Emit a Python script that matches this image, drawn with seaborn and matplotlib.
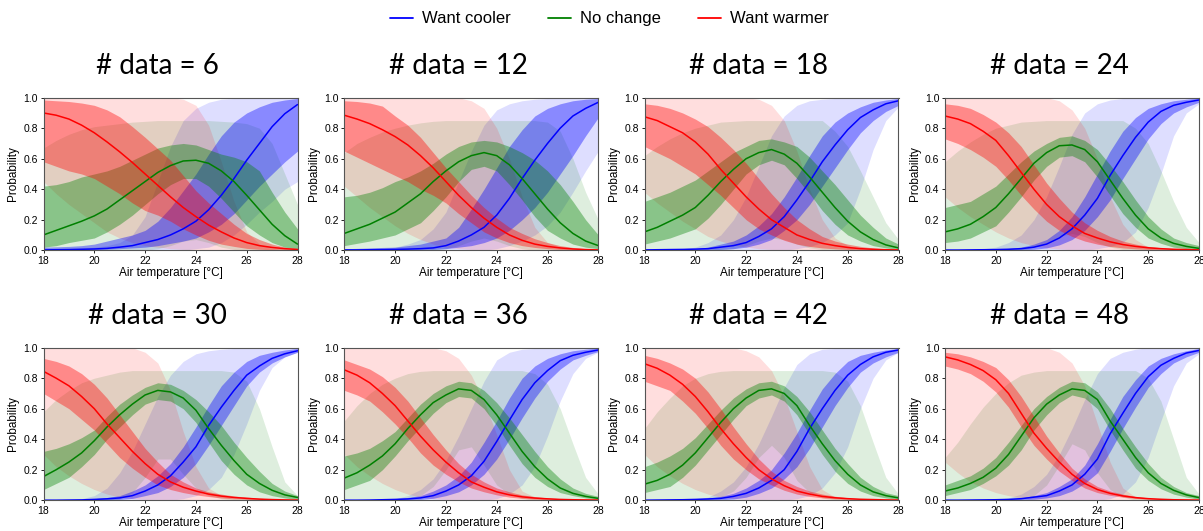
import numpy as np
import pandas as pd
import matplotlib
matplotlib.use("Agg")
import matplotlib.pyplot as plt
from matplotlib.lines import Line2D
import seaborn as sns

# Air temperature grid [°C]
temps = [18.0, 18.5, 19.0, 19.5, 20.0, 20.5, 21.0, 21.5, 22.0, 22.5, 23.0,
         23.5, 24.0, 24.5, 25.0, 25.5, 26.0, 26.5, 27.0, 27.5, 28.0]

n_data = [6, 12, 18, 24, 30, 36, 42, 48]
responses = ["Want cooler", "No change", "Want warmer"]

# ---- posterior mean probability, one row per sample size ----
cool_mean = [
    [.002, .003, .004, .006, .008, .012, .02, .03, .05, .07, .10, .14, .19, .265, .36, .47, .59, .70, .81, .895, .955],
    [.002, .002, .003, .004, .005, .007, .01, .015, .03, .06, .10, .15, .23, .34, .47, .59, .70, .80, .88, .93, .97],
    [.002, .003, .004, .005, .007, .01, .02, .03, .05, .09, .14, .22, .33, .45, .58, .69, .79, .87, .92, .96, .98],
    [.001, .001, .002, .003, .004, .006, .01, .02, .04, .08, .14, .23, .34, .49, .62, .74, .84, .91, .95, .97, .985],
    [0, 0, .001, .002, .005, .009, .015, .03, .06, .1, .16, .25, .35, .49, .61, .72, .82, .88, .93, .96, .98],
    [0, 0, .001, .003, .005, .008, .015, .03, .06, .1, .16, .255, .385, .525, .66, .77, .85, .915, .95, .97, .985],
    [0, .001, .002, .003, .005, .008, .012, .025, .045, .08, .13, .2, .32, .47, .6, .72, .82, .89, .94, .97, .985],
    [0, 0, .001, .002, .003, .005, .01, .02, .03, .06, .1, .17, .27, .435, .57, .70, .81, .885, .93, .965, .982],
]
none_mean = [
    [.10, .13, .16, .19, .225, .27, .33, .39, .45, .51, .555, .585, .59, .57, .52, .45, .36, .265, .17, .095, .04],
    [.11, .14, .17, .21, .25, .31, .37, .45, .52, .58, .62, .64, .62, .56, .47, .37, .27, .18, .11, .06, .03],
    [.12, .15, .19, .23, .28, .36, .45, .53, .60, .64, .66, .63, .57, .48, .38, .28, .19, .12, .07, .035, .015],
    [.12, .14, .17, .22, .28, .37, .47, .57, .64, .685, .69, .66, .58, .46, .34, .23, .14, .08, .045, .025, .012],
    [.155, .20, .25, .31, .39, .48, .56, .63, .69, .72, .71, .67, .59, .47, .36, .26, .17, .11, .065, .035, .018],
    [.145, .18, .23, .29, .37, .47, .56, .64, .69, .73, .72, .66, .56, .44, .32, .22, .14, .08, .045, .025, .012],
    [.105, .13, .17, .23, .31, .41, .51, .60, .67, .72, .73, .70, .62, .49, .37, .26, .17, .10, .055, .03, .015],
    [.06, .08, .11, .15, .21, .30, .42, .54, .63, .69, .73, .72, .66, .52, .40, .28, .18, .11, .065, .035, .017],
]
warm_mean = [
    [.90, .885, .86, .82, .77, .71, .645, .575, .50, .425, .35, .28, .22, .165, .12, .08, .05, .03, .018, .01, .005],
    [.885, .86, .83, .79, .745, .69, .62, .54, .45, .36, .28, .21, .15, .10, .065, .04, .025, .015, .008, .004, .002],
    [.875, .85, .81, .77, .71, .63, .53, .44, .35, .27, .20, .15, .10, .07, .045, .03, .018, .01, .006, .003, .002],
    [.88, .86, .83, .78, .72, .62, .51, .40, .30, .22, .16, .11, .08, .055, .037, .025, .016, .01, .006, .004, .002],
    [.845, .80, .75, .68, .60, .50, .41, .32, .24, .17, .12, .085, .06, .04, .027, .018, .012, .007, .004, .002, .001],
    [.855, .82, .77, .70, .62, .52, .42, .33, .25, .18, .12, .085, .055, .035, .022, .014, .009, .005, .003, .002, .001],
    [.895, .865, .82, .76, .68, .58, .47, .37, .28, .20, .14, .095, .06, .04, .025, .016, .01, .006, .004, .002, .001],
    [.94, .92, .89, .85, .79, .70, .57, .44, .34, .25, .17, .11, .07, .045, .028, .017, .01, .006, .003, .002, .001],
]

# ---- credible interval of the mean (narrow bands) ----
cool_lo = [
    [0, 0, 0, .002, .004, .006, .01, .015, .02, .03, .045, .06, .08, .12, .17, .24, .33, .42, .5, .58, .65],
    [0, 0, 0, 0, 0, 0, 0, .005, .01, .02, .03, .05, .08, .13, .2, .28, .38, .5, .62, .75, .87],
    [0, 0, 0, 0, 0, .002, .005, .01, .02, .04, .07, .13, .2, .3, .42, .54, .66, .77, .85, .91, .95],
    [0, 0, 0, 0, 0, 0, .002, .006, .015, .035, .07, .13, .22, .33, .47, .6, .73, .83, .9, .94, .97],
    [0, 0, 0, 0, .001, .003, .005, .012, .03, .05, .09, .15, .24, .36, .49, .62, .75, .84, .9, .94, .97],
    [0, 0, 0, 0, .001, .003, .005, .013, .03, .055, .1, .17, .27, .4, .54, .67, .78, .86, .92, .95, .975],
    [0, 0, 0, 0, 0, .001, .003, .008, .02, .045, .08, .14, .22, .34, .48, .62, .74, .84, .9, .94, .97],
    [0, 0, 0, 0, 0, 0, .002, .006, .015, .03, .06, .11, .18, .32, .47, .61, .74, .83, .9, .94, .97],
]
cool_hi = [
    [.02, .022, .025, .03, .04, .06, .08, .1, .13, .19, .28, .39, .5, .63, .75, .84, .9, .94, .97, .985, .995],
    [.01, .012, .015, .018, .02, .03, .04, .06, .08, .15, .27, .40, .54, .68, .79, .88, .93, .96, .98, .99, .995],
    [.002, .003, .004, .006, .01, .02, .04, .06, .1, .16, .24, .35, .48, .62, .75, .84, .9, .94, .97, .985, .995],
    [.001, .002, .003, .005, .007, .012, .02, .04, .07, .13, .22, .35, .5, .65, .78, .87, .93, .96, .98, .99, .998],
    [.001, .002, .003, .005, .01, .018, .03, .06, .1, .16, .24, .35, .48, .62, .75, .84, .91, .95, .97, .985, .995],
    [.001, .002, .003, .005, .01, .018, .03, .06, .1, .16, .25, .38, .52, .67, .8, .88, .93, .96, .98, .99, .998],
    [.001, .001, .002, .004, .008, .014, .025, .045, .08, .13, .2, .31, .44, .59, .73, .83, .91, .95, .97, .985, .995],
    [0, .001, .002, .003, .005, .009, .015, .03, .05, .09, .14, .23, .37, .53, .68, .79, .88, .93, .96, .98, .995],
]
none_lo = [
    [.02, .03, .05, .065, .08, .12, .17, .23, .3, .37, .43, .47, .47, .42, .34, .25, .16, .1, .05, .02, .01],
    [.03, .045, .06, .08, .1, .14, .18, .26, .35, .45, .53, .55, .52, .43, .33, .22, .13, .08, .04, .02, .01],
    [.04, .06, .08, .11, .14, .21, .3, .4, .5, .56, .59, .56, .47, .37, .26, .17, .1, .06, .03, .015, .005],
    [.05, .06, .08, .12, .16, .25, .35, .46, .55, .61, .62, .58, .48, .36, .24, .15, .08, .045, .02, .01, .004],
    [.07, .11, .15, .22, .3, .4, .48, .56, .63, .66, .65, .6, .51, .38, .26, .17, .1, .055, .03, .015, .005],
    [.07, .1, .13, .2, .29, .39, .48, .57, .64, .68, .67, .6, .49, .36, .24, .15, .09, .05, .03, .015, .005],
    [.05, .07, .09, .15, .23, .33, .43, .53, .62, .67, .69, .65, .56, .43, .3, .19, .11, .06, .03, .015, .005],
    [.03, .05, .07, .11, .16, .23, .33, .46, .56, .64, .69, .67, .6, .46, .33, .21, .13, .075, .04, .02, .007],
]
none_hi = [
    [.42, .43, .45, .48, .5, .52, .55, .59, .63, .67, .69, .7, .69, .66, .63, .61, .58, .52, .38, .25, .14],
    [.35, .36, .38, .41, .45, .48, .52, .57, .63, .68, .71, .72, .71, .68, .64, .59, .52, .43, .32, .2, .1],
    [.32, .35, .38, .42, .46, .52, .58, .64, .68, .72, .73, .71, .68, .61, .52, .43, .33, .23, .15, .08, .04],
    [.28, .3, .32, .37, .42, .5, .58, .65, .7, .74, .75, .72, .66, .56, .45, .33, .22, .14, .08, .05, .03],
    [.32, .34, .37, .41, .46, .55, .63, .69, .74, .77, .76, .72, .66, .58, .49, .38, .28, .19, .11, .06, .03],
    [.29, .31, .34, .39, .45, .54, .63, .7, .75, .78, .77, .72, .64, .54, .43, .32, .22, .14, .08, .045, .025],
    [.22, .25, .29, .34, .41, .5, .59, .67, .73, .77, .78, .75, .68, .58, .46, .34, .24, .15, .09, .05, .03],
    [.1, .13, .16, .21, .28, .38, .49, .6, .68, .74, .78, .77, .71, .6, .47, .35, .24, .15, .09, .05, .03],
]
warm_lo = [
    [.58, .55, .52, .5, .47, .42, .37, .31, .26, .23, .19, .14, .10, .065, .04, .025, .012, .006, .003, .001, 0],
    [.65, .61, .57, .53, .49, .45, .40, .36, .31, .24, .18, .12, .08, .05, .03, .018, .01, .005, .003, .001, 0],
    [.68, .64, .6, .55, .5, .43, .36, .28, .2, .14, .1, .065, .04, .025, .015, .009, .005, .003, .001, 0, 0],
    [.73, .7, .66, .61, .55, .46, .36, .27, .19, .13, .09, .06, .04, .025, .015, .009, .005, .003, .002, .001, 0],
    [.70, .65, .6, .53, .46, .37, .28, .21, .15, .1, .07, .05, .035, .024, .015, .009, .005, .003, .002, .001, 0],
    [.72, .69, .65, .58, .5, .41, .31, .23, .17, .12, .08, .055, .035, .02, .012, .007, .004, .002, .001, 0, 0],
    [.78, .75, .72, .65, .57, .47, .36, .27, .2, .14, .1, .065, .04, .025, .015, .009, .005, .003, .002, .001, 0],
    [.88, .86, .83, .78, .71, .61, .48, .36, .27, .19, .13, .08, .05, .032, .02, .012, .006, .004, .002, .001, 0],
]
warm_hi = [
    [.985, .98, .975, .965, .95, .92, .875, .81, .74, .665, .59, .49, .39, .31, .24, .17, .11, .07, .04, .02, .01],
    [.98, .975, .965, .945, .88, .82, .74, .64, .54, .45, .36, .28, .21, .15, .11, .075, .05, .03, .018, .01, .005],
    [.96, .95, .93, .9, .86, .81, .74, .66, .57, .47, .37, .28, .2, .14, .09, .06, .04, .025, .015, .008, .005],
    [.96, .95, .93, .89, .84, .77, .68, .56, .44, .34, .25, .18, .13, .09, .06, .04, .025, .016, .01, .006, .004],
    [.93, .91, .88, .83, .76, .67, .56, .45, .34, .25, .17, .12, .08, .055, .04, .028, .02, .013, .008, .005, .003],
    [.92, .89, .86, .81, .74, .65, .54, .43, .33, .24, .17, .12, .08, .055, .035, .024, .015, .01, .006, .004, .002],
    [.95, .93, .9, .86, .8, .71, .6, .48, .37, .27, .19, .13, .09, .06, .04, .026, .016, .01, .006, .004, .002],
    [.97, .96, .94, .91, .87, .79, .68, .55, .42, .31, .21, .14, .09, .06, .04, .025, .015, .009, .005, .003, .002],
]

# ---- predictive interval (wide, pale bands) ----
cool_wlo = [
    [0, 0, 0, 0, 0, 0, 0, 0, 0, 0, 0, 0, .01, .02, .05, .1, .17, .25, .32, .4, .45],
    [0, 0, 0, 0, 0, 0, 0, 0, 0, 0, 0, 0, .01, .03, .06, .1, .16, .25, .38, .52, .65],
    [0, 0, 0, 0, 0, 0, 0, 0, 0, 0, 0, 0, .01, .025, .05, .1, .18, .4, .66, .85, .94],
    [0, 0, 0, 0, 0, 0, 0, 0, 0, 0, 0, 0, .01, .025, .05, .12, .28, .5, .75, .9, .96],
    [0, 0, 0, 0, 0, 0, 0, 0, 0, 0, 0, .01, .03, .07, .15, .3, .5, .72, .87, .94, .97],
    [0, 0, 0, 0, 0, 0, 0, 0, 0, 0, 0, 0, .01, .04, .1, .22, .42, .65, .83, .93, .97],
    [0, 0, 0, 0, 0, 0, 0, 0, 0, 0, 0, 0, .01, .03, .08, .18, .35, .6, .8, .92, .97],
    [0, 0, 0, 0, 0, 0, 0, 0, 0, 0, 0, 0, 0, .01, .04, .12, .28, .52, .75, .9, .96],
]
cool_whi = [
    [0, .002, .005, .01, .02, .03, .05, .1, .22, .45, .68, .85, .93, .97, .99, .995, 1, 1, 1, 1, 1],
    [0, .002, .005, .01, .02, .04, .07, .14, .25, .45, .65, .82, .92, .96, .98, .99, .995, 1, 1, 1, 1],
    [0, .001, .004, .01, .02, .05, .1, .2, .35, .55, .75, .88, .95, .98, .99, .995, 1, 1, 1, 1, 1],
    [0, .001, .004, .01, .02, .05, .1, .2, .35, .55, .76, .9, .96, .985, .995, .998, 1, 1, 1, 1, 1],
    [0, .002, .005, .01, .03, .08, .18, .32, .5, .68, .82, .91, .96, .98, .99, .995, 1, 1, 1, 1, 1],
    [0, .001, .003, .006, .01, .03, .07, .14, .26, .42, .6, .78, .92, .97, .99, .995, 1, 1, 1, 1, 1],
    [0, .001, .002, .005, .01, .02, .06, .12, .22, .37, .55, .74, .89, .96, .99, .995, 1, 1, 1, 1, 1],
    [0, .001, .002, .003, .005, .015, .04, .09, .17, .3, .47, .66, .83, .93, .97, .99, 1, 1, 1, 1, 1],
]
none_wlo = [
    [0, 0, 0, 0, 0, 0, 0, 0, 0, .01, .03, .06, .07, .05, .02, .005, 0, 0, 0, 0, 0],
    [0, 0, 0, 0, 0, 0, 0, 0, .01, .03, .06, .08, .06, .03, .01, 0, 0, 0, 0, 0, 0],
    [0, 0, 0, 0, 0, 0, 0, .01, .03, .06, .08, .07, .04, .015, .005, 0, 0, 0, 0, 0, 0],
    [0, 0, 0, 0, 0, 0, 0, .02, .05, .09, .11, .09, .05, .02, .005, 0, 0, 0, 0, 0, 0],
    [0, 0, 0, 0, 0, 0, .01, .05, .15, .27, .27, .17, .08, .03, .01, 0, 0, 0, 0, 0, 0],
    [0, 0, 0, 0, 0, .01, .03, .09, .2, .33, .35, .23, .1, .04, .01, 0, 0, 0, 0, 0, 0],
    [0, 0, 0, 0, 0, .005, .02, .06, .15, .28, .36, .28, .13, .05, .015, 0, 0, 0, 0, 0, 0],
    [0, 0, 0, 0, 0, 0, .01, .03, .1, .23, .37, .33, .18, .07, .02, 0, 0, 0, 0, 0, 0],
]
none_whi = [
    [.67, .72, .76, .79, .81, .82, .83, .84, .845, .85, .85, .85, .85, .85, .845, .84, .83, .8, .7, .5, .3],
    [.64, .7, .74, .775, .8, .82, .835, .845, .85, .85, .85, .85, .85, .85, .85, .85, .84, .78, .6, .38, .2],
    [.62, .68, .73, .77, .8, .82, .84, .845, .85, .85, .85, .85, .85, .85, .85, .78, .68, .52, .35, .18, .07],
    [.58, .65, .71, .76, .8, .82, .84, .845, .85, .85, .85, .85, .85, .85, .85, .8, .7, .52, .32, .15, .05],
    [.58, .66, .72, .77, .8, .82, .84, .85, .85, .85, .85, .85, .85, .85, .85, .84, .78, .6, .35, .12, .03],
    [.52, .62, .7, .76, .8, .83, .845, .85, .85, .85, .85, .85, .85, .85, .85, .83, .76, .6, .37, .15, .04],
    [.47, .58, .67, .75, .8, .83, .845, .85, .85, .85, .85, .85, .85, .85, .85, .84, .78, .62, .38, .15, .04],
    [.28, .38, .5, .61, .7, .77, .82, .84, .85, .85, .85, .85, .85, .85, .85, .85, .8, .65, .4, .15, .04],
]
warm_wlo = [
    [.45, .37, .3, .24, .18, .12, .08, .05, .03, .02, .01, .005, 0, 0, 0, 0, 0, 0, 0, 0, 0],
    [.42, .35, .28, .22, .16, .11, .07, .04, .02, .01, .005, 0, 0, 0, 0, 0, 0, 0, 0, 0, 0],
    [.38, .31, .25, .19, .14, .09, .06, .035, .02, .01, .005, 0, 0, 0, 0, 0, 0, 0, 0, 0, 0],
    [.35, .28, .22, .17, .12, .08, .05, .03, .015, .008, .003, 0, 0, 0, 0, 0, 0, 0, 0, 0, 0],
    [.3, .22, .16, .11, .07, .04, .02, .01, .005, 0, 0, 0, 0, 0, 0, 0, 0, 0, 0, 0, 0],
    [.3, .22, .16, .11, .07, .04, .02, .01, .005, 0, 0, 0, 0, 0, 0, 0, 0, 0, 0, 0, 0],
    [.3, .22, .16, .11, .07, .04, .02, .01, .005, 0, 0, 0, 0, 0, 0, 0, 0, 0, 0, 0, 0],
    [.25, .18, .12, .08, .05, .03, .015, .007, .003, 0, 0, 0, 0, 0, 0, 0, 0, 0, 0, 0, 0],
]
warm_whi = [
    [1, 1, 1, 1, 1, 1, 1, 1, 1, 1, 1, .99, .95, .82, .58, .32, .12, .04, .01, .003, 0],
    [1, 1, 1, 1, 1, 1, 1, 1, 1, 1, .98, .93, .8, .6, .35, .15, .05, .02, .005, 0, 0],
    [1, 1, 1, 1, 1, 1, 1, 1, 1, .99, .95, .85, .65, .4, .2, .08, .03, .01, 0, 0, 0],
    [1, 1, 1, 1, 1, 1, 1, 1, 1, .98, .92, .8, .6, .35, .17, .07, .02, .005, 0, 0, 0],
    [1, 1, 1, 1, 1, 1, 1, 1, .97, .9, .72, .45, .22, .08, .03, .01, 0, 0, 0, 0, 0],
    [1, 1, 1, 1, 1, 1, 1, 1, .98, .93, .82, .65, .43, .2, .06, .02, .005, 0, 0, 0, 0],
    [1, 1, 1, 1, 1, 1, 1, 1, .98, .94, .85, .68, .45, .22, .07, .02, .005, 0, 0, 0, 0],
    [1, 1, 1, 1, 1, 1, 1, 1, 1, .97, .9, .75, .5, .25, .08, .02, .005, 0, 0, 0, 0],
]

colors = {"Want cooler": "blue", "No change": "green", "Want warmer": "red"}

sns.set_theme(style="ticks")
plt.rcParams["font.family"] = ["Liberation Sans", "DejaVu Sans"]
plt.rcParams.update({
    "text.color": "black",
    "axes.labelcolor": "black",
    "xtick.color": "black",
    "ytick.color": "black",
})

W, H = 1203, 531
fig = plt.figure(figsize=(W / 100, H / 100), dpi=100)

col_left = [43.5, 344.3, 644.5, 945.0]
ax_w = 254.0
row_top = [97.7, 347.7]
ax_h = 152.5

series = {
    "Want cooler": (cool_mean, cool_lo, cool_hi, cool_wlo, cool_whi),
    "No change": (none_mean, none_lo, none_hi, none_wlo, none_whi),
    "Want warmer": (warm_mean, warm_lo, warm_hi, warm_wlo, warm_whi),
}

for name, arrs in series.items():
    for arr in arrs:
        for row in arr:
            if len(row) != len(temps):
                raise ValueError(f"{name}: row of length {len(row)}")

for i, n in enumerate(n_data):
    r, c = divmod(i, 4)
    left = col_left[c] / W
    bottom = 1 - (row_top[r] + ax_h) / H
    ax = fig.add_axes([left, bottom, ax_w / W, ax_h / H])

    # pale predictive bands first
    for name in responses:
        _, _, _, wlo, whi = series[name]
        ax.fill_between(temps, wlo[i], whi[i], color=colors[name], alpha=0.13, lw=0)
    # credible bands of the mean
    for name in responses:
        _, lo, hi, _, _ = series[name]
        ax.fill_between(temps, lo[i], hi[i], color=colors[name], alpha=0.38, lw=0)

    df = pd.DataFrame({
        "temp": temps * 3,
        "prob": cool_mean[i] + none_mean[i] + warm_mean[i],
        "response": sum([[nm] * len(temps) for nm in responses], []),
    })
    sns.lineplot(data=df, x="temp", y="prob", hue="response", palette=colors,
                 ax=ax, legend=False, lw=1.1)

    ax.set_xlim(18, 28)
    ax.set_ylim(0, 1)
    ax.set_xticks([18, 20, 22, 24, 26, 28])
    ax.set_yticks([0, 0.2, 0.4, 0.6, 0.8, 1.0])
    ax.set_yticklabels([f"{v:.1f}" for v in [0, 0.2, 0.4, 0.6, 0.8, 1.0]])
    ax.tick_params(labelsize=7.5, length=2.5, width=0.6, pad=1.5)
    for sp in ax.spines.values():
        sp.set_color("#555555")
        sp.set_linewidth(0.8)
    ax.set_xlabel("Air temperature [°C]", fontsize=8.5, labelpad=1)
    ax.set_ylabel("Probability", fontsize=8.5, labelpad=3)

    cx = (col_left[c] + ax_w / 2 - 13) / W
    cy = 1 - (row_top[r] - 32) / H
    fig.text(cx, cy, f"# data = {n}", ha="center", va="center", color="black",
             fontsize=20, family=["Lato", "DejaVu Sans"])

handles = [Line2D([], [], color=colors[nm], lw=1.3) for nm in responses]
fig.legend(handles, responses, loc="center",
           bbox_to_anchor=(0.5 + 8 / W, 1 - 19 / H),
           ncol=3, frameon=False, fontsize=12, handlelength=1.4,
           handletextpad=0.55, columnspacing=2.2)

fig.savefig("out.png", dpi=100, facecolor="white")
